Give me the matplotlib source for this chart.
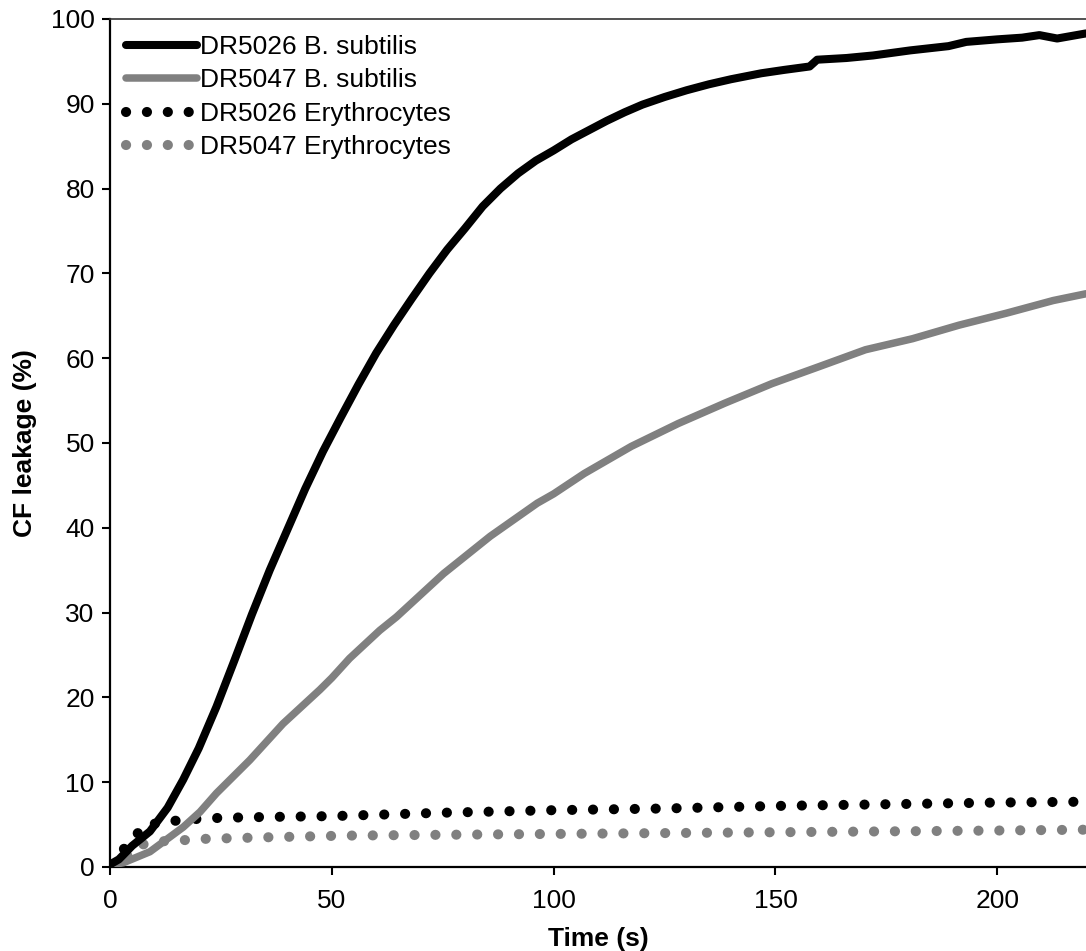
import matplotlib
matplotlib.use("Agg")
import matplotlib.pyplot as plt

plt.rcParams['font.family'] = ['Liberation Sans', 'DejaVu Sans']

# DR5026 B. subtilis
t_5026_bs = [0, 2, 5, 9, 13, 16.5, 20, 24, 28, 32, 36, 40, 44, 48, 52, 56, 60, 64, 68, 72,
             76, 80, 84, 88, 92, 96, 100, 104, 108, 112, 116, 120, 125, 130, 135, 140, 146.8,
             152, 157.7, 159.4, 166, 172, 180.4, 189, 193, 200, 205.6, 209.5, 213.5, 220]
v_5026_bs = [0.3, 0.9, 2.5, 4.2, 7.0, 10.3, 14.0, 18.9, 24.3, 29.8, 35.0, 39.8, 44.6, 49.0, 53.0,
             56.9, 60.6, 63.9, 67.0, 70.0, 72.8, 75.3, 77.9, 80.0, 81.8, 83.3, 84.5, 85.8, 86.9,
             88.0, 89.0, 89.9, 90.8, 91.6, 92.3, 92.9, 93.6, 94.0, 94.4, 95.2, 95.4, 95.7, 96.3,
             96.8, 97.3, 97.6, 97.8, 98.1, 97.7, 98.3]

# DR5047 B. subtilis
t_5047_bs = [0, 3, 9, 16.5, 20.3, 24, 31.5, 39, 47.3, 50, 54, 60.8, 64.6, 75.2, 85.7, 96.3, 100,
             106.9, 117.5, 128.1, 138.6, 149.2, 159.8, 170.3, 180.9, 191.4, 202, 212.6, 220]
v_5047_bs = [0.2, 0.5, 1.8, 4.7, 6.5, 8.7, 12.6, 16.9, 20.9, 22.3, 24.6, 27.9, 29.5, 34.6, 39.0, 42.9, 44.0,
             46.4, 49.6, 52.3, 54.7, 57.0, 59.0, 61.0, 62.3, 63.9, 65.3, 66.8, 67.6]

# DR5026 Erythrocytes
t_5026_er = [0, 2, 4.7, 7.7, 12.4, 17, 25, 35, 50, 75, 100, 125, 150, 175, 200, 220]
v_5026_er = [0.3, 1.5, 3.0, 4.9, 5.3, 5.6, 5.8, 5.9, 6.0, 6.4, 6.7, 6.9, 7.2, 7.4, 7.6, 7.7]

# DR5047 Erythrocytes
t_5047_er = [0, 2.6, 5.5, 10, 15, 20, 35, 53, 75, 100, 125, 150, 175, 200, 220]
v_5047_er = [0.2, 0.5, 2.4, 3.0, 3.1, 3.3, 3.5, 3.7, 3.8, 3.9, 4.0, 4.1, 4.2, 4.3, 4.4]

labels = ["DR5026 B. subtilis", "DR5047 B. subtilis", "DR5026 Erythrocytes", "DR5047 Erythrocytes"]
x_ticks = [0, 50, 100, 150, 200]
y_ticks = list(range(0, 101, 10))

GRAY = "#808080"
DOTS = (0, (0.01, 2.05))

fig = plt.figure(figsize=(10.86, 9.51), dpi=100)
ax = fig.add_axes([110 / 1086, 84 / 951, 976 / 1086, 848 / 951])

ax.plot(t_5026_bs, v_5026_bs, color="black", lw=5.8, solid_capstyle="round",
        solid_joinstyle="round", label=labels[0], zorder=4)
ax.plot(t_5047_bs, v_5047_bs, color=GRAY, lw=5.4, solid_capstyle="round",
        solid_joinstyle="round", label=labels[1], zorder=3)
ax.plot(t_5026_er, v_5026_er, color="black", lw=7.3, linestyle=DOTS,
        dash_capstyle="round", label=labels[2], zorder=2)
ax.plot(t_5047_er, v_5047_er, color=GRAY, lw=7.3, linestyle=DOTS,
        dash_capstyle="round", label=labels[3], zorder=1)

ax.set_xlim(0, 220)
ax.set_ylim(0, 100)
ax.set_xticks(x_ticks)
ax.set_yticks(y_ticks)
ax.tick_params(axis="both", direction="out", length=6, width=1.5, labelsize=19,
               colors="black")
ax.tick_params(axis="x", pad=10)
ax.tick_params(axis="y", pad=5)
ax.spines["right"].set_visible(False)
ax.spines["left"].set_linewidth(1.6)
ax.spines["bottom"].set_linewidth(1.6)
ax.spines["top"].set_linewidth(1.2)
ax.spines["top"].set_color("#333333")

ax.set_xlabel("Time (s)", fontsize=19, fontweight="bold", labelpad=10)
ax.set_ylabel("CF leakage (%)", fontsize=19, fontweight="bold", labelpad=10)

leg = ax.legend(loc="upper left", bbox_to_anchor=(0.0, 1.0), frameon=False, fontsize=19,
                handlelength=2.7, handletextpad=0.12, labelspacing=0.36,
                borderaxespad=0.3, borderpad=0.3)

fig.savefig("out.png", dpi=100)
